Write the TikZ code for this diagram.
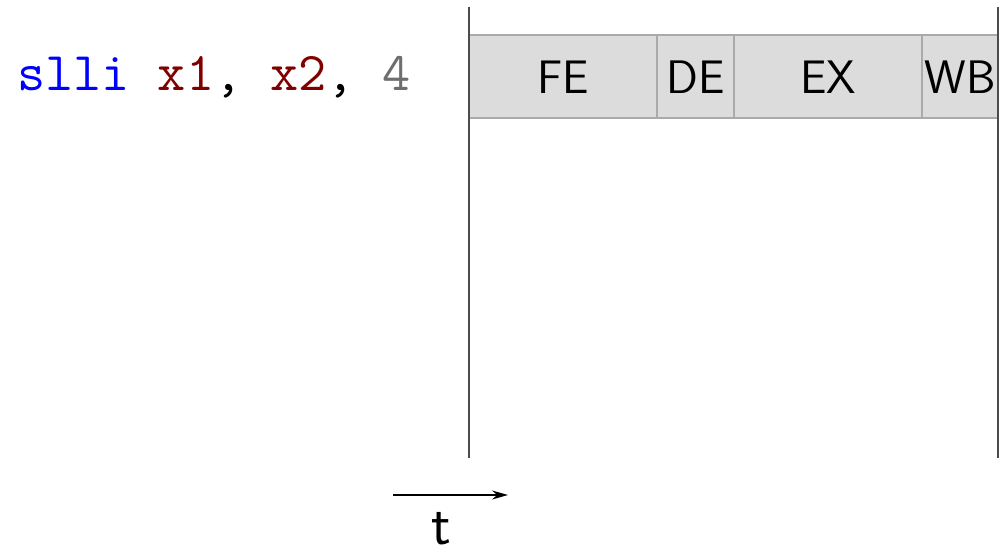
\documentclass[tikz,border=0pt]{standalone}
\usepackage{tikz}
\usetikzlibrary{arrows.meta}
\definecolor{regred}{RGB}{128,0,0}
\definecolor{immgray}{RGB}{110,110,110}
\definecolor{stagefill}{RGB}{220,220,220}
\definecolor{stageline}{RGB}{170,170,170}
\begin{document}
\begin{tikzpicture}[x=0.5pt,y=-0.5pt,
  stagebox/.style={draw=stageline,fill=stagefill,line width=0.6pt},
  stagelabel/.style={font=\sffamily\fontsize{23.5}{26}\selectfont,inner sep=0pt},
  codetext/.style={font=\ttfamily\fontsize{27.3}{30}\selectfont,inner sep=0pt,anchor=west},
  boundary/.style={draw=black!70,line width=0.6pt}]
\useasboundingbox (0,0) rectangle (999,549);
% stage boxes
\draw[stagebox] (469,35) rectangle (657,118);
\draw[stagebox] (657,35) rectangle (734,118);
\draw[stagebox] (734,35) rectangle (922,118);
\draw[stagebox] (922,35) rectangle (998,118);
\node[stagelabel] (fe) at (563,77) {FE};
\node[stagelabel] (de) at (695.5,77) {DE};
\node[stagelabel] (ex) at (828,77) {EX};
\node[stagelabel] (wb) at (960,77) {WB};
% boundaries
\coordinate (l1) at (469,7); \coordinate (l2) at (469,458);
\coordinate (r1) at (998,7); \coordinate (r2) at (998,458);
\draw[boundary] (l1) -- (l2);
\draw[boundary] (r1) -- (r2);
% instruction
\node[codetext] (instr) at (17,77) {\textcolor{blue}{slli} \textcolor{regred}{x1}, \textcolor{regred}{x2}, \textcolor{immgray}{4}};
% time arrow
\coordinate (ta) at (393,495); \coordinate (tb) at (508,495);
\draw[-{Stealth[length=8pt,width=4.5pt]},line width=0.6pt] (ta) -- (tb);
\node[font=\sffamily\fontsize{29}{32}\selectfont,inner sep=0pt,anchor=base] (t) at (441,544) {t};
\end{tikzpicture}
\end{document}
